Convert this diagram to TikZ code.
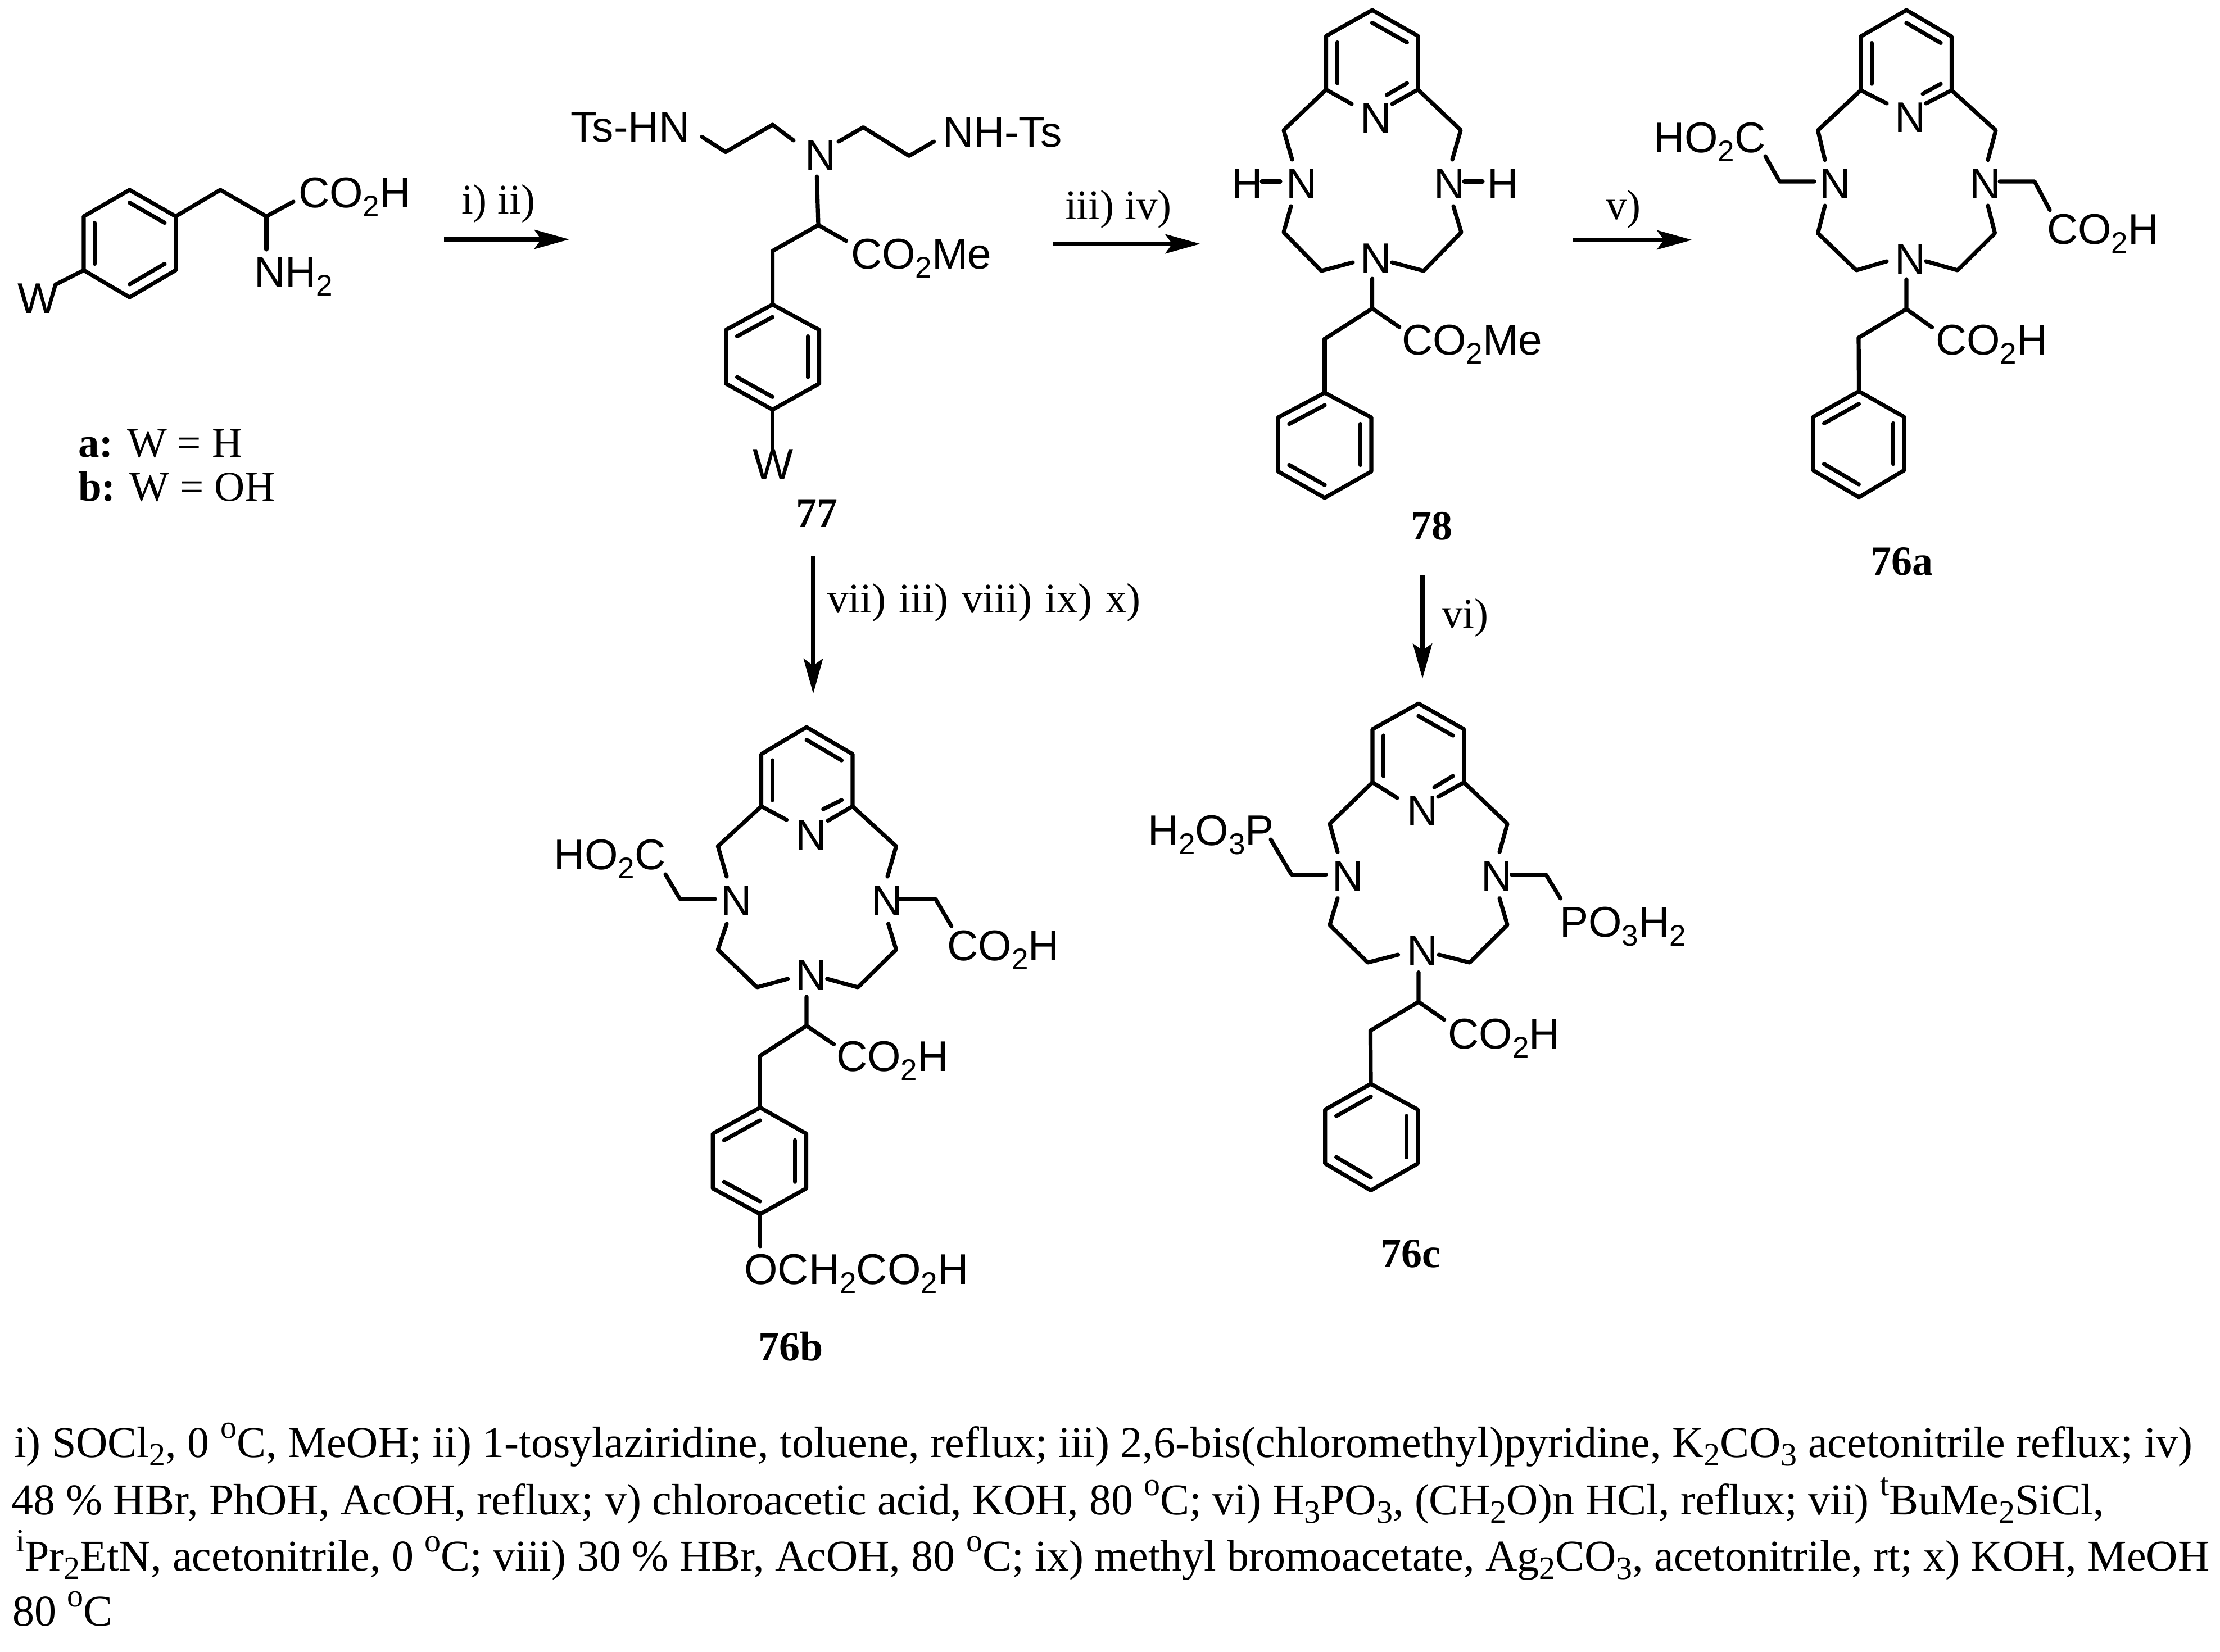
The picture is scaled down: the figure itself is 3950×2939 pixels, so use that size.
\documentclass[tikz,border=0pt]{standalone}
\usepackage{fontspec}
\setmainfont{Liberation Serif}
\newfontfamily\arialf{Liberation Sans}
\usetikzlibrary{arrows.meta,calc}
\newcommand\sbb[1]{\raisebox{-16pt}{\fontsize{53}{53}\selectfont #1}}
\newcommand\tsb[1]{\raisebox{-15pt}{\fontsize{58}{58}\selectfont #1}}
\newcommand\tsp[1]{\raisebox{34pt}{\fontsize{58}{58}\selectfont #1}}
\tikzset{
 bond/.style={line width=7.2pt,line cap=round,line join=round,black},
 arr/.style={line width=8pt,black,-{Stealth[length=62pt,width=34pt,inset=12pt]}},
 atom/.style={anchor=base west,inner sep=0,outer sep=0,font=\arialf\fontsize{76.5}{76.5}\selectfont},
 cond/.style={anchor=base west,inner sep=0,outer sep=0,font=\fontsize{75}{75}\selectfont},
 num/.style={anchor=base west,inner sep=0,outer sep=0,font=\bfseries\fontsize{74}{74}\selectfont},
 foot/.style={anchor=base west,inner sep=0,outer sep=0,font=\fontsize{78}{78}\selectfont}
}
\newcommand\pts[1]{\foreach \n/\x/\y in {#1}\coordinate (\n) at (\x,\y);}
% #1 prefix, #2 cx, #3 xl, #4 xr, #5 ytop, #6 yu, #7 yl, #8 ybot
\newcommand\ringpts[8]{%
 \coordinate (#1t) at (#2,#5); \coordinate (#1ur) at (#4,#6); \coordinate (#1lr) at (#4,#7);
 \coordinate (#1b) at (#2,#8); \coordinate (#1ll) at (#3,#7); \coordinate (#1ul) at (#3,#6);
 \coordinate (#1c) at ($(#1ul)!.5!(#1lr)$);}
\newcommand\dbond[3]{\draw[bond] ($(#1)!.24!(#3)$) -- ($(#2)!.24!(#3)$);}
\newcommand\ringA[1]{\draw[bond] (#1t)--(#1ur)--(#1lr)--(#1b)--(#1ll)--(#1ul)--cycle;
 \dbond{#1t}{#1ur}{#1c}\dbond{#1ul}{#1ll}{#1c}\dbond{#1lr}{#1b}{#1c}}
\newcommand\ringB[1]{\draw[bond] (#1t)--(#1ur)--(#1lr)--(#1b)--(#1ll)--(#1ul)--cycle;
 \dbond{#1t}{#1ul}{#1c}\dbond{#1ur}{#1lr}{#1c}\dbond{#1b}{#1ll}{#1c}}
\newcommand\pyr[1]{\draw[bond] (#1lr)--(#1ur)--(#1t)--(#1ul)--(#1ll);
 \dbond{#1t}{#1ur}{#1c}\dbond{#1ul}{#1ll}{#1c}
 \draw[bond] ($(#1lr)!.24!(#1c)$) -- (#1i);
 \draw[bond] (#1ll)--(#1nl); \draw[bond] (#1lr)--(#1nr);
 \draw[bond] (#1ll)--(#1l1)--(#1l2); \draw[bond] (#1l3)--(#1l4)--(#1l5)--(#1l6);
 \draw[bond] (#1lr)--(#1r1)--(#1r2); \draw[bond] (#1r3)--(#1r4)--(#1r5)--(#1r6);
 \draw[bond] (#1c1)--(#1c2)--(#1c3); \draw[bond] (#1c2)--(#1c4);}
\begin{document}
\begin{tikzpicture}[x=1pt,y=-1pt]
\useasboundingbox (0,0) rectangle (3950,2939);
\fill[white] (0,0) rectangle (3950,2939);

%% starting material
\ringpts{A}{230.5}{149}{312.6}{338}{385}{481}{529}
\ringA{A}
\pts{Ax1/392/338,Ax2/474/385,Ax3/522/359,Ax4/474/444,Ax5/99.5/506}
\draw[bond] (Aur)--(Ax1)--(Ax2)--(Ax3);
\draw[bond] (Ax2)--(Ax4);
\draw[bond] (All)--(Ax5);
\node[atom] (Aco) at (531,369) {CO\sbb{2}H};
\node[atom] (Anh) at (452,510) {NH\sbb{2}};
\node[atom] (Aw) at (31.5,557) {W};
\node[cond] (La) at (139,813.5) {\textbf{a:} W = H};
\node[cond] (Lb) at (139,891) {\textbf{b:} W = OH};

%% 77
\ringpts{B}{1374.6}{1291.6}{1457.5}{542}{587}{682.7}{729}
\ringB{B}
\pts{Bx1/1249/243.5,Bx2/1291/270.5,Bx3/1374.6/222,Bx4/1412/250,Bx5/1492/252,Bx6/1536/226.5,Bx7/1617.5/277.5,Bx8/1661.5/252,Bx9/1453.4/314,By1/1456/400.6,By2/1505.6/428.7,By3/1374.6/446.6,By4/1374.6/797}
\draw[bond] (Bx1)--(Bx2)--(Bx3)--(Bx4);
\draw[bond] (Bx5)--(Bx6)--(Bx7)--(Bx8);
\draw[bond] (Bx9)--(By1)--(By2);
\draw[bond] (By1)--(By3)--(Bt);
\draw[bond] (Bb)--(By4);
\node[atom] (Bts) at (1015.6,252) {Ts-HN};
\node[atom] (Bn) at (1432.6,302) {N};
\node[atom] (Bnh) at (1677,261.5) {NH-Ts};
\node[atom] (Bco) at (1514,478.5) {CO\sbb{2}Me};
\node[atom] (Bw) at (1339,852) {W};
\node[num] (L77) at (1416,937) {77};

%% 78
\ringpts{C}{2441.6}{2359.5}{2523}{18}{64}{159.5}{206}
\pts{Ci/2467.4/169,Cnl/2405/185,Cnr/2477/185,Cl1/2284/231.6,Cl2/2299/284,Cl3/2297/367,Cl4/2284/413.5,Cl5/2351/482,Cl6/2407/467,Cr1/2599/231.6,Cr2/2584/284,Cr3/2586/367,Cr4/2600/413.5,Cr5/2533/482,Cr6/2477/467,Cc1/2441.6/496,Cc2/2441.6/549,Cc3/2489.7/582,Cc4/2357/603,Chl1/2245/323,Chl2/2278/323,Chr1/2605/323,Chr2/2638/323}
\pyr{C}
\ringpts{D}{2357}{2274}{2440}{699}{743}{839}{886}
\ringB{D}
\draw[bond] (Cc4)--(Dt);
\draw[bond] (Chl1)--(Chl2);
\draw[bond] (Chr1)--(Chr2);
\node[atom] (Cn) at (2420.8,236) {N};
\node[atom] (Cnl0) at (2288,353) {N};
\node[atom] (Chl) at (2191,353) {H};
\node[atom] (Cnr0) at (2551,353) {N};
\node[atom] (Chr) at (2646,353) {H};
\node[atom] (Cn3) at (2420.8,486) {N};
\node[atom] (Cco) at (2494,631.6) {CO\sbb{2}Me};
\node[num] (L78) at (2510,960) {78};

%% 76a
\ringpts{E}{3392}{3310.7}{3472.4}{18}{65}{160.7}{208}
\pts{Ei/3421/167,Enl/3357/184,Enr/3427/184,El1/3234.5/232,El2/3247/284.6,El3/3247/366,El4/3234.5/415,El5/3303/481,El6/3357/465,Er1/3551/232,Er2/3537/284.6,Er3/3537/366,Er4/3549.5/415,Er5/3483/481,Er6/3427/465,Ec1/3392/497,Ec2/3392/550,Ec3/3437.5/582.5,Ec4/3307/601,Es1/3228/323,Es2/3166.5/323,Es3/3141/278,Es4/3558/323,Es5/3620/323,Es6/3647/373.6}
\pyr{E}
\ringpts{F}{3307.5}{3226}{3388}{696.4}{742}{837}{885}
\ringB{F}
\draw[bond] (Ec4)--(Ft);
\draw[bond] (Es1)--(Es2)--(Es3);
\draw[bond] (Es4)--(Es5)--(Es6);
\node[atom] (En) at (3371,235.7) {N};
\node[atom] (Enl0) at (3237,353) {N};
\node[atom] (Enr0) at (3504,353) {N};
\node[atom] (En3) at (3371,487.5) {N};
\node[atom] (Eho) at (2942,271) {HO\sbb{2}C};
\node[atom] (Eco1) at (3642,434) {CO\sbb{2}H};
\node[atom] (Eco2) at (3444,631.5) {CO\sbb{2}H};
\node[num] (L76a) at (3328,1023) {76a};

%% 76b
\ringpts{G}{1435}{1354.6}{1517}{1294}{1342}{1435}{1483}
\pts{Gi/1464.7/1440,Gnl/1399.5/1459,Gnr/1473/1460.5,Gl1/1277.4/1506,Gl2/1293/1560,Gl3/1293/1644,Gl4/1277.4/1690,Gl5/1347/1757,Gl6/1401.6/1742,Gr1/1594.5/1506,Gr2/1579/1560,Gr3/1580.5/1644,Gr4/1594.5/1690,Gr5/1526.4/1757,Gr6/1471.7/1742,Gc1/1435/1774,Gc2/1435/1825.5,Gc3/1483.6/1858.4,Gc4/1352.5/1879,Gs1/1272/1600,Gs2/1210/1600,Gs3/1184/1556,Gs4/1601.5/1600,Gs5/1664.6/1600,Gs6/1692.7/1648,Gs7/1352.5/2218}
\pyr{G}
\ringpts{H}{1352.5}{1268.3}{1434.5}{1971}{2017.6}{2115}{2160.7}
\ringB{H}
\draw[bond] (Gc4)--(Ht);
\draw[bond] (Hb)--(Gs7);
\draw[bond] (Gs1)--(Gs2)--(Gs3);
\draw[bond] (Gs4)--(Gs5)--(Gs6);
\node[atom] (Gn) at (1415.6,1512) {N};
\node[atom] (Gnl0) at (1282,1629) {N};
\node[atom] (Gnr0) at (1550,1629) {N};
\node[atom] (Gn3) at (1415.6,1761) {N};
\node[atom] (Gho) at (985,1547) {HO\sbb{2}C};
\node[atom] (Gco1) at (1685.7,1709) {CO\sbb{2}H};
\node[atom] (Gco2) at (1488,1906.6) {CO\sbb{2}H};
\node[atom] (Goc) at (1324.4,2285.5) {OCH\sbb{2}CO\sbb{2}H};
\node[num] (L76b) at (1349,2421) {76b};

%% 76c
\ringpts{I}{2524}{2442}{2604.7}{1252}{1297.7}{1392.4}{1438}
\pts{Ii/2552/1401,Inl/2486/1420,Inr/2559/1418,Il1/2366/1466,Il2/2380/1516.6,Il3/2380/1598.6,Il4/2366/1646,Il5/2433.5/1713,Il6/2487.5/1699,Ir1/2682/1466,Ir2/2668/1516.6,Ir3/2668/1598.6,Ir4/2682/1646,Ir5/2615/1713,Ir6/2560/1699,Ic1/2524/1730.5,Ic2/2524/1783,Ic3/2569.6/1814.7,Ic4/2438.4/1834,Is1/2359/1556.6,Is2/2298/1556.6,Is3/2261/1494,Is4/2689.6/1556.6,Is5/2750.6/1556.6,Is6/2776.6/1599}
\pyr{I}
\ringpts{J}{2439}{2357.8}{2522.6}{1929}{1974.6}{2070.7}{2118.5}
\ringB{J}
\draw[bond] (Ic4)--(Jt);
\draw[bond] (Is1)--(Is2)--(Is3);
\draw[bond] (Is4)--(Is5)--(Is6);
\node[atom] (In) at (2503,1469) {N};
\node[atom] (Inl0) at (2370,1585) {N};
\node[atom] (Inr0) at (2635,1585) {N};
\node[atom] (In3) at (2503,1718.6) {N};
\node[atom] (Ipl) at (2042,1504) {H\sbb{2}O\sbb{3}P};
\node[atom] (Ipr) at (2775,1667) {PO\sbb{3}H\sbb{2}};
\node[atom] (Ico) at (2576.6,1866) {CO\sbb{2}H};
\node[num] (L76c) at (2456,2255) {76c};

%% arrows
\pts{R1s/790/426,R1e/1013/426,R2s/1873.7/434,R2e/2135.7/434,R3s/2799/427,R3e/3010.6/427,R4s/1447/989,R4e/1447/1234.5,R5s/2531/1023.6,R5e/2531/1207.6}
\draw[arr] (R1s)--(R1e);
\draw[arr] (R2s)--(R2e);
\draw[arr] (R3s)--(R3e);
\draw[arr] (R4s)--(R4e);
\draw[arr] (R5s)--(R5e);
\node[cond] (T1) at (821,380) {i) ii)};
\node[cond] (T2) at (1895,390.5) {iii) iv)};
\node[cond] (T3) at (2857,390) {v)};
\node[cond] (T4) at (1472,1090) {vii)\hspace{5pt} iii)\hspace{5pt} viii)\hspace{5pt} ix)\hspace{5pt} x)};
\node[cond] (T5) at (2565,1117) {vi)};

%% footnote
\node[foot] (F1) at (25,2593) {i) SOCl\tsb{2}, 0 \tsp{o}C, MeOH; ii) 1-tosylaziridine, toluene, reflux; iii) 2,6-bis(chloromethyl)pyridine, K\tsb{2}CO\tsb{3} acetonitrile reflux; iv)};
\node[foot] (F2) at (20,2695) {48 \% HBr, PhOH, AcOH, reflux; v) chloroacetic acid, KOH, 80 \tsp{o}C; vi) H\tsb{3}PO\tsb{3}, (CH\tsb{2}O)n HCl, reflux; vii) \tsp{t}BuMe\tsb{2}SiCl,};
\node[foot] (F3) at (28,2795) {\tsp{i}Pr\tsb{2}EtN, acetonitrile, 0 \tsp{o}C; viii) 30 \% HBr, AcOH, 80 \tsp{o}C; ix) methyl bromoacetate, Ag\tsb{2}CO\tsb{3}, acetonitrile, rt; x) KOH, MeOH};
\node[foot] (F4) at (22,2893) {80 \tsp{o}C};
\end{tikzpicture}
\end{document}
